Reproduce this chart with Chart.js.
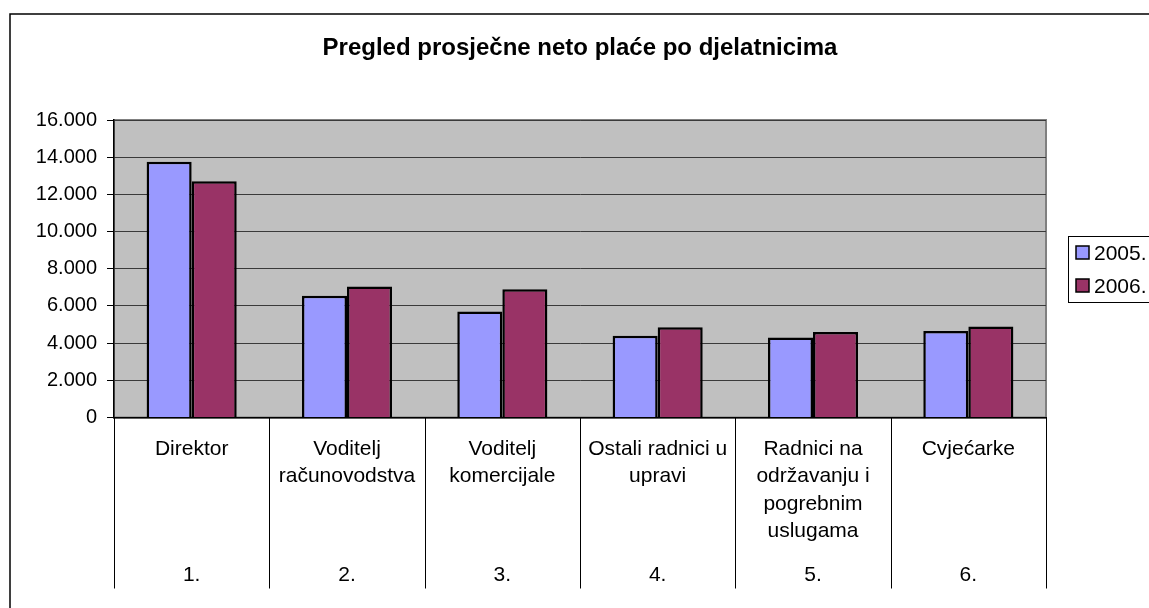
<!DOCTYPE html>
<html>
<head>
<meta charset="utf-8">
<script src="https://cdn.jsdelivr.net/npm/chart.js"></script>
<style>
  html, body { margin: 0; padding: 0; overflow: hidden; background: #fff; }
</style>
</head>
<body>
<canvas id="placeCanvas" width="1149" height="608"></canvas>
<script>
// podaci
var kategorije = [
  ['Direktor'],
  ['Voditelj', 'računovodstva'],
  ['Voditelj', 'komercijale'],
  ['Ostali radnici u', 'upravi'],
  ['Radnici na', 'održavanju i', 'pogrebnim', 'uslugama'],
  ['Cvjećarke']
];
var redniBrojevi = ['1.', '2.', '3.', '4.', '5.', '6.'];
var godine = ['2005.', '2006.'];
var placa2005 = [13750, 6550, 5700, 4400, 4300, 4650];
var placa2006 = [12700, 7050, 6900, 4850, 4600, 4900];
var yMax = 16000;
var yKorak = 2000;

Chart.defaults.font.family = '"Liberation Sans", Arial, sans-serif';
Chart.defaults.color = '#000';

function formatBroj(v) {
  return String(v).replace(/\B(?=(\d{3})+(?!\d))/g, '.');
}

var pozadina = {
  id: 'pozadina',
  beforeDraw: function(chart) {
    var c = chart.ctx, a = chart.chartArea;
    c.save();
    c.fillStyle = '#fff';
    c.fillRect(0, 0, chart.width, chart.height);
    // okvir grafikona
    c.strokeStyle = '#000';
    c.lineWidth = 1.5;
    c.beginPath();
    c.moveTo(10, 608);
    c.lineTo(10, 14);
    c.lineTo(1160, 14);
    c.stroke();
    // podloga
    c.fillStyle = '#c0c0c0';
    c.fillRect(a.left, a.top, a.right - a.left, a.bottom - a.top);
    c.strokeStyle = '#808080';
    c.lineWidth = 2;
    c.strokeRect(a.left, a.top, a.right - a.left, a.bottom - a.top);
    c.restore();
  },
  afterDraw: function(chart) {
    var c = chart.ctx, a = chart.chartArea;
    var xs = chart.scales.x, x2 = chart.scales.x2;
    var korak = xs.getPixelForValue(1) - xs.getPixelForValue(0);
    c.save();
    // razdjelnici kategorija
    c.strokeStyle = '#000';
    c.lineWidth = 1;
    for (var i = 0; i <= kategorije.length; i++) {
      var px = Math.round(xs.getPixelForValue(0) - korak / 2 + i * korak) + 0.5;
      c.beginPath();
      c.moveTo(px, a.bottom);
      c.lineTo(px, x2.bottom);
      c.stroke();
    }
    // legenda
    c.fillStyle = '#fff';
    c.fillRect(1068, 236, 100, 66);
    c.strokeStyle = '#000';
    c.lineWidth = 1;
    c.strokeRect(1068.5, 236.5, 100, 66);
    c.font = '21px "Liberation Sans", Arial, sans-serif';
    c.textBaseline = 'middle';
    chart.data.datasets.forEach(function(ds, j) {
      var cy = 253 + j * 33;
      c.fillStyle = ds.backgroundColor;
      c.fillRect(1076, cy - 7, 13, 13);
      c.lineWidth = 1.5;
      c.strokeRect(1076, cy - 7, 13, 13);
      c.fillStyle = '#000';
      c.fillText(ds.label, 1094, cy + 1);
    });
    c.restore();
  }
};

var ctx = document.getElementById('placeCanvas');
var graf = new Chart(ctx, {
  type: 'bar',
  data: {
    labels: kategorije,
    datasets: [
      {
        label: godine[0],
        backgroundColor: '#9999ff',
        borderColor: '#000',
        borderWidth: 2.5,
        data: placa2005
      },
      {
        label: godine[1],
        backgroundColor: '#993366',
        borderColor: '#000',
        borderWidth: 2.5,
        data: placa2006
      }
    ]
  },
  options: {
    responsive: false,
    animation: false,
    devicePixelRatio: 1,
    categoryPercentage: 0.58,
    barPercentage: 1,
    layout: { padding: { top: 14, left: 10, right: 103, bottom: 19.5 } },
    plugins: {
      legend: { display: false },
      tooltip: { enabled: false },
      title: {
        display: true,
        fullSize: false,
        text: 'Pregled prosječne neto plaće po djelatnicima',
        color: '#000',
        font: { size: 24, weight: 'bold' },
        padding: { top: 19.6, bottom: 57.6 }
      }
    },
    scales: {
      x: {
        weight: 0,
        offset: true,
        grid: { display: false, drawTicks: false },
        border: { display: true, color: '#000', width: 1.5 },
        ticks: {
          color: '#000',
          font: { size: 21, lineHeight: 1.3 },
          padding: 18,
          maxRotation: 0,
          autoSkip: false
        },
        afterFit: function(s) { s.height = 125; }
      },
      x2: {
        type: 'category',
        labels: redniBrojevi,
        position: 'bottom',
        weight: 1,
        offset: true,
        grid: { display: false, drawTicks: false },
        border: { display: false },
        ticks: {
          color: '#000',
          font: { size: 21, lineHeight: 1.3 },
          padding: 19,
          maxRotation: 0,
          autoSkip: false
        },
        afterFit: function(s) { s.height = 46; }
      },
      y: {
        min: 0,
        max: yMax,
        ticks: {
          stepSize: yKorak,
          color: '#000',
          font: { size: 20 },
          padding: 10,
          callback: function(v) { return formatBroj(v); }
        },
        grid: { color: '#3a3a3a', tickColor: '#000', tickLength: 7, lineWidth: 1 },
        border: { color: '#000', width: 1.5 },
        afterFit: function(s) { s.width = 104; }
      }
    }
  },
  plugins: [pozadina]
});
</script>
</body>
</html>
